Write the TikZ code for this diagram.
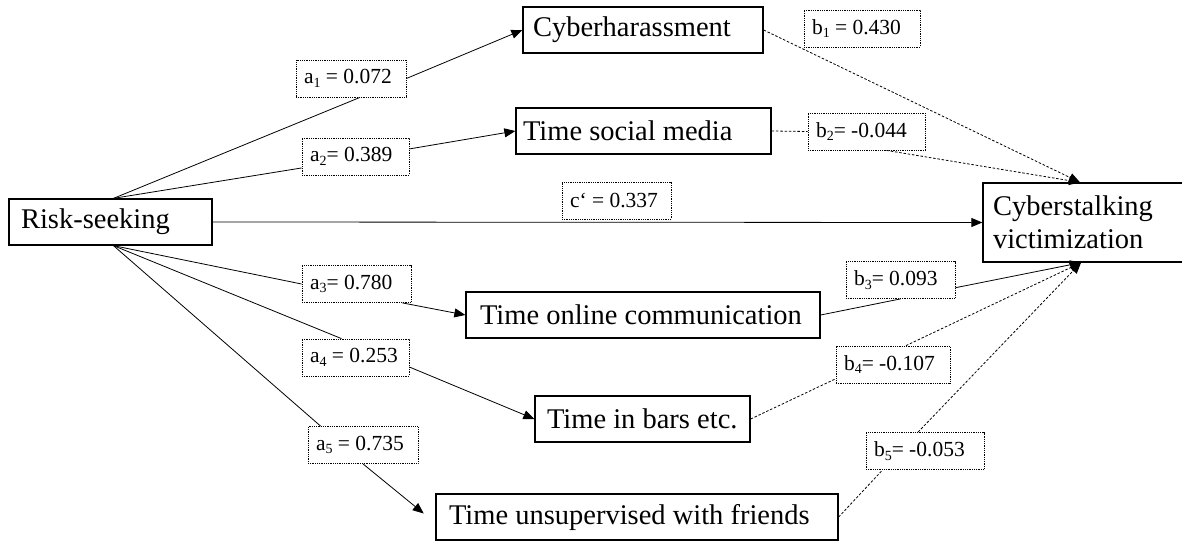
\documentclass[tikz,border=0pt]{standalone}
\usepackage{fontspec}
\setmainfont{Liberation Serif}
\usetikzlibrary{arrows.meta}
\newcommand{\sbs}[1]{\raisebox{-3.8pt}{\fontsize{14}{14}\selectfont #1}}
\begin{document}
\begin{tikzpicture}[x=1pt,y=-1pt,
  box/.style={draw, line width=1.3pt, inner ysep=0pt, minimum height=46pt, font=\fontsize{28.5}{33}\selectfont},
  lab/.style={draw, densely dotted, line width=0.8pt, inner ysep=0pt, inner xsep=8pt, minimum height=37pt, font=\fontsize{21.5}{25}\selectfont},
  conn/.style={line width=0.8pt},
  dconn/.style={line width=0.8pt, dash pattern=on 2.5pt off 1.8pt},
  arr/.style={-{Triangle[length=11pt,width=9pt]}}
]
\useasboundingbox (0,0) rectangle (1182,541);
% boxes
\node[box, inner xsep=12pt] (risk) at (110.5,222) {\makebox[179pt][l]{Risk-seeking}};
\node[box, inner xsep=10pt] (cyber) at (643,30) {\makebox[220pt][l]{Cyberharassment}};
\node[box, inner xsep=7pt] (social) at (643.5,131) {\makebox[241pt][l]{Time social media}};
\node[box, minimum height=79pt, inner xsep=10pt, text width=182pt, align=left] (victim) at (1084,222.5) {Cyberstalking\\victimization};
\node[box, inner xsep=14pt] (online) at (643,315) {\makebox[326pt][l]{Time online communication}};
\node[box, inner xsep=12pt] (bars) at (642.5,419) {\makebox[191pt][l]{Time in bars etc.}};
\node[box, inner xsep=13pt] (unsup) at (637,517) {\makebox[376pt][l]{Time unsupervised with friends}};
% labels
\node[lab] (a1) at (351,78.5) {\makebox[94pt][l]{a\sbs{1} = 0.072}};
\node[lab] (a2) at (355.5,156.5) {\makebox[91pt][l]{a\sbs{2}= 0.389}};
\node[lab] (c) at (616.5,200.5) {\makebox[93pt][l]{c‘ = 0.337}};
\node[lab] (b1) at (862,28.5) {\makebox[100pt][l]{b\sbs{1} = 0.430}};
\node[lab] (b2) at (866.5,131.5) {\makebox[101pt][l]{b\sbs{2}= -0.044}};
\node[lab] (a3) at (356.5,284) {\makebox[93pt][l]{a\sbs{3}= 0.780}};
\node[lab] (a4) at (355.5,357.5) {\makebox[91pt][l]{a\sbs{4} = 0.253}};
\node[lab] (a5) at (363,445) {\makebox[94pt][l]{a\sbs{5} = 0.735}};
\node[lab] (b3) at (900.5,280) {\makebox[93pt][l]{b\sbs{3}= 0.093}};
\node[lab] (b4) at (893,364.5) {\makebox[98pt][l]{b\sbs{4}= -0.107}};
\node[lab] (b5) at (925,451) {\makebox[102pt][l]{b\sbs{5}= -0.053}};
% connectors
\draw[conn] ([xshift=3pt]risk.north) -- ([xshift=9pt]a1.south);
\draw[conn,arr] (a1.east) -- (cyber.west);
\draw[conn] ([xshift=3pt]risk.north) -- (a2.192);
\draw[conn,arr] (a2.8) -- (social.west);
\draw[conn,arr] (risk.east) -- (victim.west);
\draw[dconn,arr] (cyber.east) -- ([xshift=-4pt]victim.north);
\draw[dconn] (social.east) -- (b2.west);
\draw[dconn,arr] ([xshift=20pt]b2.south) -- ([xshift=-4pt]victim.north);
\draw[conn] ([xshift=3pt]risk.south) -- (a3.west);
\draw[conn,arr] ([xshift=-9pt]a3.south east) -- (online.west);
\draw[conn] (online.east) -- (b3.south);
\draw[conn,arr] (b3.-8) -- ([xshift=-3pt]victim.south);
\draw[conn] ([xshift=3pt]risk.south) -- ([xshift=-14pt]a4.north);
\draw[conn,arr] (a4.-10) -- (bars.west);
\draw[dconn] (bars.east) -- (b4.194);
\draw[dconn,arr] ([xshift=13pt]b4.north) -- ([xshift=-3pt]victim.south);
\draw[conn] ([xshift=3pt]risk.south) -- ([xshift=13pt]a5.north west);
\draw[conn,arr,shorten >=15pt] (a5.south) -- ([yshift=-6pt]unsup.west);
\draw[dconn] (unsup.east) -- ([xshift=17pt]b5.south west);
\draw[dconn,arr] ([xshift=-7pt]b5.north) -- ([xshift=-3pt]victim.south);
\end{tikzpicture}
\end{document}
